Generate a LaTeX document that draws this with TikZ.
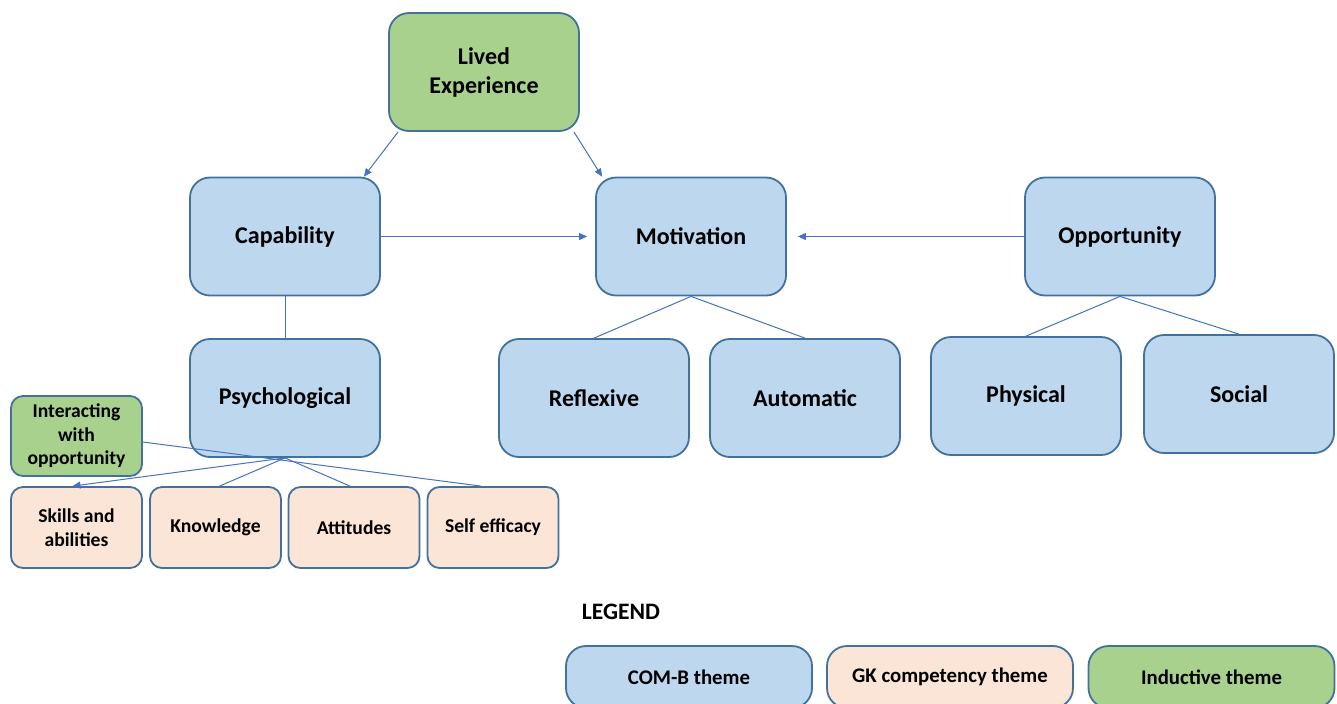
\documentclass[tikz,border=0pt]{standalone}
\usepackage{fontspec}
\setmainfont{Carlito}
\usetikzlibrary{arrows.meta}

\definecolor{boxline}{HTML}{41719C}
\definecolor{linkblue}{HTML}{4472C4}
\definecolor{comfill}{HTML}{BDD7EE}
\definecolor{gkfill}{HTML}{FBE5D6}
\definecolor{indfill}{HTML}{A9D18E}

\begin{document}
\begin{tikzpicture}[x=0.5pt,y=-0.5pt]
    \tikzset{
    theme/.style={draw=boxline, line width=0.9pt, rounded corners=10pt, align=center,
        font=\bfseries\fontsize{12}{14.5}\selectfont},
    combox/.style={theme, fill=comfill, minimum width=95pt, minimum height=59pt},
    indbox/.style={combox, fill=indfill},
    gkbox/.style={theme, fill=gkfill, minimum width=65.5pt, minimum height=40.5pt,
        rounded corners=6pt, inner sep=1pt, font=\bfseries\fontsize{9.8}{11.8}\selectfont},
    smallind/.style={gkbox, fill=indfill, minimum height=40pt},
    keybox/.style={theme, minimum width=123pt, minimum height=31pt,
        font=\bfseries\fontsize{10.4}{13}\selectfont},
    link/.style={draw=linkblue, line width=0.5pt},
    arc/.style={link, -{Triangle[length=4pt,width=3.5pt]}}
    }
    \useasboundingbox (0,0) rectangle (1337,703);

    % top level
    \draw node[indbox] (lived) at (484,72) {Lived\\Experience};
    \draw node[combox] (cap) at (285,236.5) {Capability};
    \draw node[combox] (mot) at (691,236.5) {Motivation};
    \draw node[combox] (opp) at (1120,236.5) {Opportunity};

    % second level
    \draw node[combox] (psych) at (285,398) {Psychological};
    \draw node[combox] (refl) at (594,398) {Reflexive};
    \draw node[combox] (auto) at (805,398) {Automatic};
    \draw node[combox] (phys) at (1026,396) {Physical};
    \draw node[combox] (soc) at (1239,394) {Social};

    % competencies
    \draw node[smallind] (inter) at (76.5,436) {Interacting\\with\\opportunity};
    \draw node[gkbox] (skills) at (76.5,527.5) {Skills and\\abilities};
    \draw node[gkbox] (know) at (215.5,527.5) {Knowledge};
    \draw node[gkbox] (att) at (354,527.5) {Attitudes};
    \draw node[gkbox] (self) at (493,527.5) {Self efficacy};

    \draw[arc] ([xshift=5pt]lived.south west) -- ([xshift=-8.5pt]cap.north east);
    \draw[arc] ([xshift=-3pt]lived.south east) -- ([xshift=3.5pt]mot.north west);
    \draw[arc] (cap.east) -- ([xshift=-4pt]mot.west);
    \draw[arc] (opp.west) -- ([xshift=5.5pt]mot.east);
    \draw[link] (cap) -- (psych);
    \draw[link] (mot.south) -- (refl.north);
    \draw[link] (mot.south) -- (auto.north);
    \draw[link] (opp.south) -- (phys.north);
    \draw[link] (opp.south) -- (soc.north);
    \draw[arc] (psych.south) -- ([xshift=-2pt]skills.north);
    \draw[link] (psych.south) -- ([xshift=2pt]know.north);
    \draw[link] (psych.south) -- ([xshift=-2pt]att.north);
    \draw[link] ([yshift=-3pt]inter.east) -- ([xshift=-6pt]self.north);

    % legend
    \draw node[font=\bfseries\fontsize{11.8}{14}\selectfont] (legend) at (621,612) {LEGEND};
    \draw node[keybox, fill=comfill] (keycom) at (689,677) {COM-B theme};
    \draw node[keybox, fill=gkfill] (keygk) at (950,677) {GK competency theme};
    \draw node[keybox, fill=indfill] (keyind) at (1211.5,677) {Inductive theme};
\end{tikzpicture}
\end{document}
